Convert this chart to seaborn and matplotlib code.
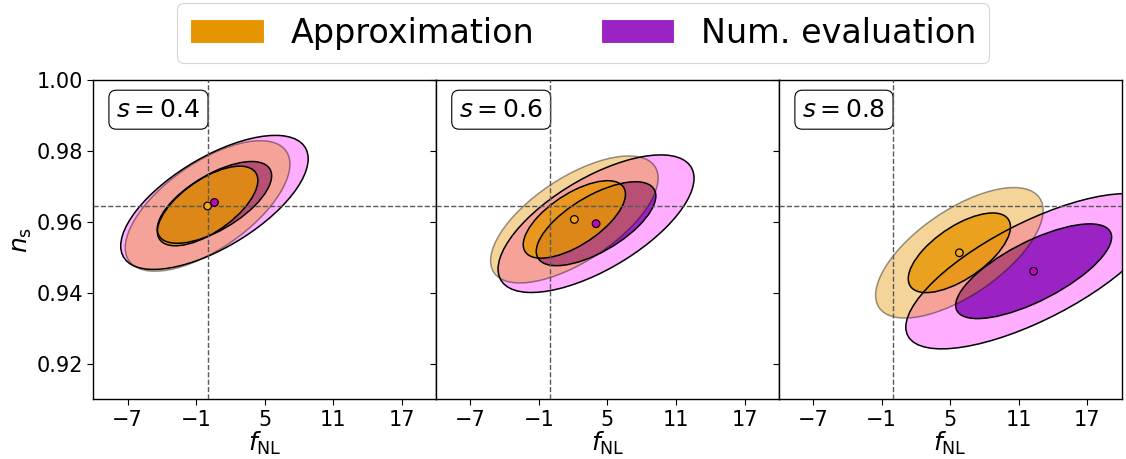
import numpy as np
import pandas as pd
import matplotlib
matplotlib.use("Agg")
import matplotlib.pyplot as plt
from matplotlib.patches import Ellipse, Patch
from matplotlib.transforms import Affine2D
import seaborn as sns

sns.set_theme(style="ticks", context="paper")
plt.rcParams["font.family"] = ["DejaVu Sans"]
plt.rcParams["mathtext.fontset"] = "dejavusans"
for key in ["text.color", "axes.labelcolor", "xtick.color", "ytick.color"]:
    plt.rcParams[key] = "black"

# skewness values, one panel each
s_values = [0.4, 0.6, 0.8]

# fiducial point
fnl_fid = 0.0
ns_fid = 0.9645

# approximation: centre, marginal errors, correlation
approx_fnl = [0.0, 2.1, 5.8]
approx_ns = [0.9645, 0.9607, 0.9513]
approx_sig_fnl = [2.9, 2.95, 2.95]
approx_sig_ns = [0.0074, 0.0072, 0.0074]
approx_rho = [0.64, 0.65, 0.65]

# numerical evaluation
num_fnl = [0.6, 4.0, 12.3]
num_ns = [0.9655, 0.9595, 0.9461]
num_sig_fnl = [3.3, 3.45, 4.5]
num_sig_ns = [0.0076, 0.0078, 0.0088]
num_rho = [0.65, 0.66, 0.72]

x_ticks = [-7, -1, 5, 11, 17]
y_ticks = [0.92, 0.94, 0.96, 0.98, 1.00]

ORANGE = "#E69500"
PURPLE = "#9B23C4"
MAGENTA = "#FF00FF"

# 68% / 95% for 2 parameters
K1 = np.sqrt(2.30)
K2 = np.sqrt(6.18)


def cov_transform(ax, cx, cy, sx, sy, rho):
    """Map the unit circle onto the covariance ellipse in data space"""
    m = np.array(
        [
            [sx, 0.0, cx],
            [rho * sy, sy * np.sqrt(1 - rho**2), cy],
            [0.0, 0.0, 1.0],
        ]
    )
    return Affine2D(m) + ax.transData


def add_ellipse(ax, params, k, face, alpha, edge_alpha, z):
    cx, cy, sx, sy, rho = params
    tr = cov_transform(ax, cx, cy, sx, sy, rho)
    ax.add_patch(
        Ellipse((0, 0), 2 * k, 2 * k, transform=tr, facecolor=face,
                edgecolor="none", alpha=alpha, zorder=z)
    )
    ax.add_patch(
        Ellipse((0, 0), 2 * k, 2 * k, transform=tr, facecolor="none",
                edgecolor=(0, 0, 0, edge_alpha), lw=1.1, zorder=5)
    )


fig = plt.figure(figsize=(11.26, 4.59), dpi=100)
left0, bottom, width, height = 0.0829, 0.130, 0.3044, 0.6957
axes = [fig.add_axes([left0 + i * width, bottom, width, height]) for i in range(3)]

for i, ax in enumerate(axes):
    approx = (approx_fnl[i], approx_ns[i], approx_sig_fnl[i], approx_sig_ns[i], approx_rho[i])
    num = (num_fnl[i], num_ns[i], num_sig_fnl[i], num_sig_ns[i], num_rho[i])

    add_ellipse(ax, num, K2, MAGENTA, 0.32, 1.0, 1)
    add_ellipse(ax, num, K1, PURPLE, 1.0, 1.0, 2)
    add_ellipse(ax, approx, K2, ORANGE, 0.4, 0.4, 3)
    add_ellipse(ax, approx, K1, ORANGE, 0.8, 1.0, 4)

    ax.axvline(fnl_fid, color="0.35", ls="--", lw=1.0, zorder=6)
    ax.axhline(ns_fid, color="0.35", ls="--", lw=1.0, zorder=6)

    pts = pd.DataFrame(
        {"fnl": [approx_fnl[i], num_fnl[i]], "ns": [approx_ns[i], num_ns[i]],
         "kind": ["Approximation", "Num. evaluation"]}
    )
    sns.scatterplot(
        data=pts, x="fnl", y="ns", hue="kind",
        palette={"Approximation": "#F2A81C", "Num. evaluation": "#CC00CC"},
        s=30, edgecolor="black", linewidth=0.9, legend=False, ax=ax, zorder=7,
    )

    ax.text(0.19, 0.907, f"$s = {s_values[i]}$", transform=ax.transAxes,
            ha="center", va="center", fontsize=18,
            bbox=dict(boxstyle="round,pad=0.3", facecolor="white", edgecolor="black"))

    ax.set_xlim(-10, 20)
    ax.set_ylim(0.91, 1.00)
    ax.set_xticks(x_ticks)
    ax.set_yticks(y_ticks)
    ax.set_xlabel(r"$f_{\rm NL}$", fontsize=18, labelpad=0)
    ax.tick_params(labelsize=15, direction="out", length=4, width=0.8, color="black")
    for sp in ax.spines.values():
        sp.set_color("black")
        sp.set_linewidth(1.0)
    if i == 0:
        ax.set_ylabel(r"$n_{\rm s}$", fontsize=18, labelpad=2)
        ax.set_yticklabels([f"{v:.2f}" for v in y_ticks])
    else:
        ax.set_ylabel("")
        ax.tick_params(labelleft=False)

handles = [Patch(facecolor=ORANGE, label="Approximation"),
           Patch(facecolor=PURPLE, label="Num. evaluation")]
fig.legend(handles=handles, loc="upper center", bbox_to_anchor=(0.518, 1.0),
           ncol=2, fontsize=24, handlelength=2.2, columnspacing=2.0,
           borderaxespad=0.1, frameon=True, fancybox=True)

fig.savefig("out.png", dpi=100)
